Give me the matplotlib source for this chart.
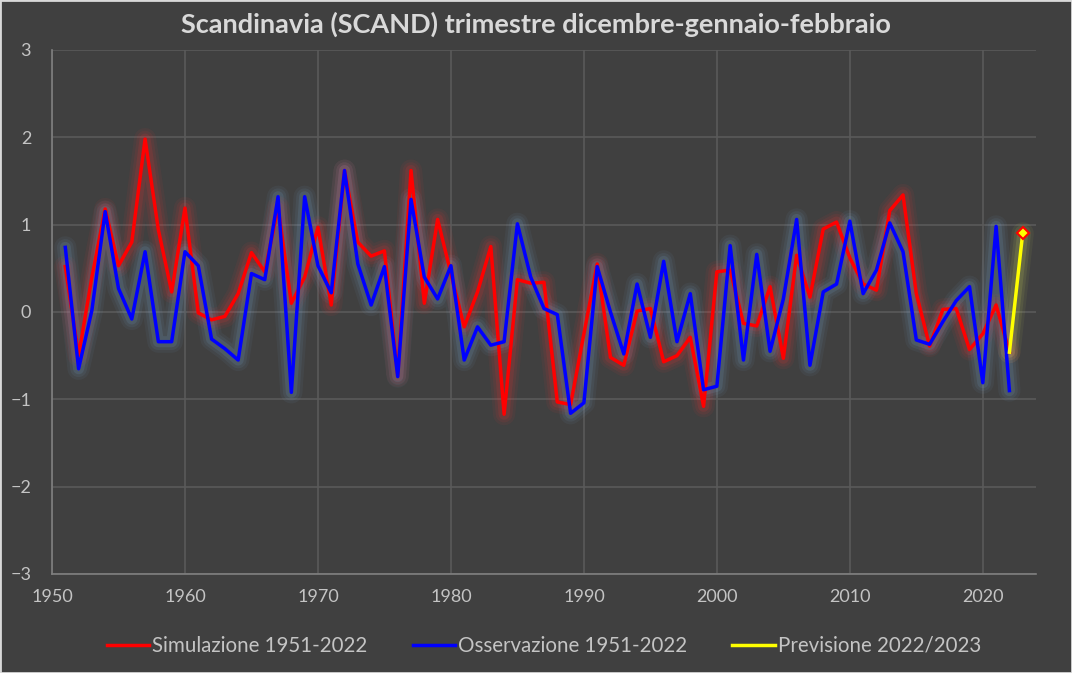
import numpy as np
import matplotlib.pyplot as plt

# SCAND index, DJF
years = list(range(1951, 2023))

simulazione = [
    0.52, -0.50, 0.40, 1.18, 0.53, 0.80, 1.98, 0.94, 0.23, 1.19,
    -0.01, -0.09, -0.05, 0.21, 0.68, 0.46, 1.20, 0.10, 0.40, 0.97,
    0.08, 1.62, 0.80, 0.64, 0.70, -0.73, 1.62, 0.10, 1.06, 0.44,
    -0.17, 0.23, 0.75, -1.17, 0.37, 0.33, 0.34, -1.03, -1.06, -0.25,
    0.55, -0.52, -0.61, 0.01, 0.04, -0.57, -0.50, -0.29, -1.08, 0.46,
    0.48, -0.13, -0.16, 0.29, -0.53, 0.65, 0.17, 0.95, 1.03, 0.62,
    0.32, 0.25, 1.16, 1.34, 0.21, -0.39, 0.03, 0.04, -0.43, -0.25,
    0.08, -0.46,
]

osservazione = [
    0.74, -0.65, 0.02, 1.15, 0.27, -0.08, 0.69, -0.34, -0.34, 0.69,
    0.53, -0.31, -0.42, -0.55, 0.44, 0.37, 1.32, -0.92, 1.32, 0.53,
    0.22, 1.62, 0.55, 0.08, 0.52, -0.74, 1.29, 0.40, 0.15, 0.53,
    -0.55, -0.17, -0.38, -0.34, 1.01, 0.40, 0.04, -0.03, -1.16, -1.04,
    0.52, 0.00, -0.48, 0.32, -0.29, 0.58, -0.34, 0.21, -0.89, -0.85,
    0.76, -0.55, 0.66, -0.45, 0.15, 1.06, -0.61, 0.23, 0.32, 1.04,
    0.21, 0.48, 1.02, 0.69, -0.32, -0.37, -0.11, 0.13, 0.29, -0.81,
    0.98, -0.90,
]

prev_years = [2022, 2023]
previsione = [-0.46, 0.90]

bg = '#404040'
txt = '#c4c4c4'
font = 'Lato'

fig = plt.figure(figsize=(10.72, 6.73), dpi=100, facecolor=bg)
fig.patches.append(plt.Rectangle((0, 0), 1, 1, transform=fig.transFigure,
                                 fill=False, edgecolor='#d9d9d9', linewidth=2))
ax = fig.add_axes([52 / 1072, 1 - 574 / 673, 984 / 1072, 524 / 673])
ax.set_facecolor(bg)


def glow(x, y, color):
    # soft halo drawn under the line
    for w, a in [(16, 0.06), (12, 0.08), (8, 0.12)]:
        ax.plot(x, y, color=color, linewidth=w, alpha=a,
                solid_capstyle='round', solid_joinstyle='round', zorder=2)


glow(years, simulazione, '#ff3030')
glow(years, osservazione, '#7fb2e0')
glow(prev_years, previsione, '#e8f060')

ax.plot(years, simulazione, color='#ff0000', linewidth=2.5, zorder=3,
        label='Simulazione 1951-2022')
ax.plot(years, osservazione, color='#0000ff', linewidth=2.5, zorder=4,
        label='Osservazione 1951-2022')
ax.plot(prev_years, previsione, color='#ffff00', linewidth=2.5, zorder=5,
        label='Previsione 2022/2023')
ax.plot(prev_years[-1:], previsione[-1:], marker='D', markersize=6,
        markerfacecolor='#ffff00', markeredgecolor='#ff0000',
        markeredgewidth=1.5, linestyle='none', zorder=6)

ax.set_xlim(1950, 2024)
ax.set_ylim(-3, 3)
ax.set_xticks(range(1950, 2021, 10))
ax.set_yticks(range(-3, 4))
ax.grid(True, color='#5a5a5a', linewidth=1.2)
ax.set_axisbelow(True)
for s in ['top', 'right']:
    ax.spines[s].set_visible(False)
for s in ['left', 'bottom']:
    ax.spines[s].set_color('#808080')
    ax.spines[s].set_linewidth(1.2)
ax.tick_params(length=0, colors=txt, labelsize=13, pad=11)
for lab in ax.get_xticklabels() + ax.get_yticklabels():
    lab.set_fontfamily(font)
    lab.set_color(txt)
ax.tick_params(axis='y', pad=15)

fig.text(0.5, 1 - 24 / 673, 'Scandinavia (SCAND) trimestre dicembre-gennaio-febbraio',
         ha='center', va='center', color='#d9d9d9', fontsize=19.5, fontweight='bold',
         fontfamily=font)

leg = ax.legend(loc='center', bbox_to_anchor=(0.5, (574 - 646) / 524), ncol=3,
                frameon=False, prop={'family': font, 'size': 14.8},
                handlelength=2.05, handletextpad=0.15, columnspacing=2.2)
for t in leg.get_texts():
    t.set_color(txt)

fig.savefig('out.png', dpi=100, facecolor=bg)
